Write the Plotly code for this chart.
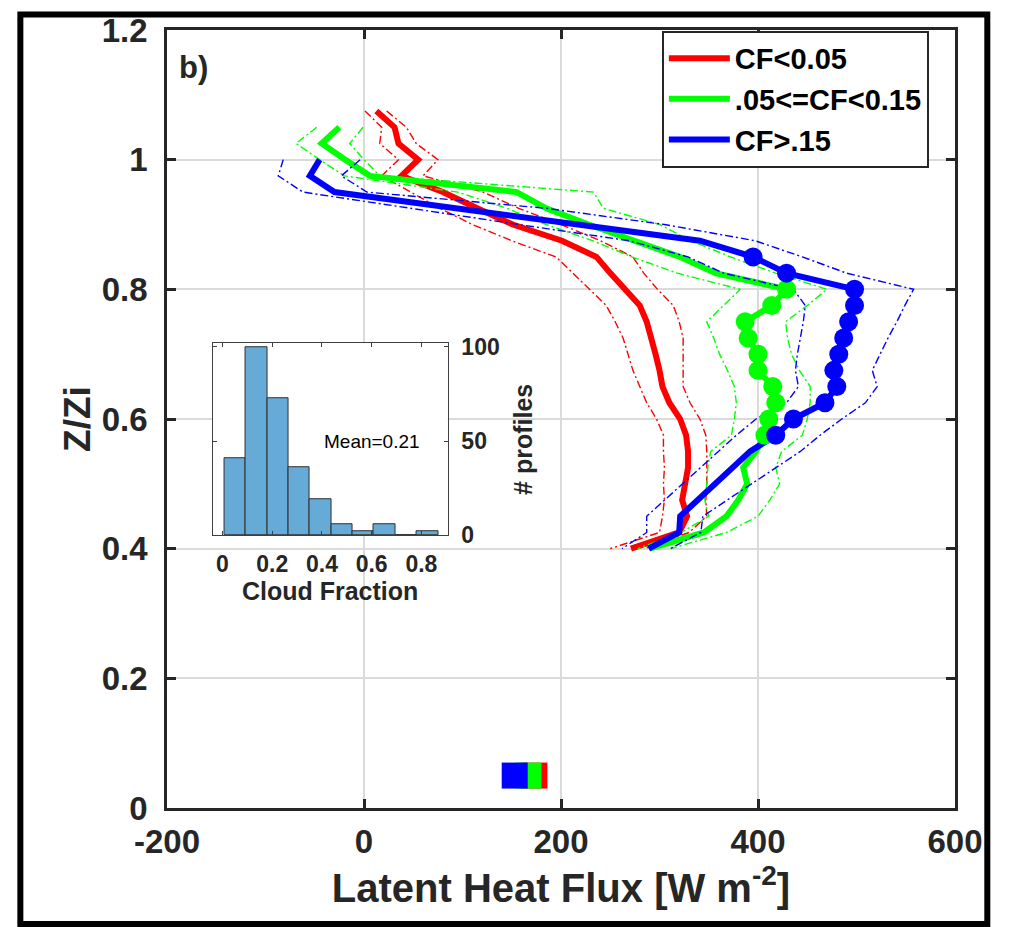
import plotly.graph_objects as go

# ---------------- data ----------------
# Latent heat flux profiles vs normalised height Z/Zi, three cloud-fraction classes
z_red = [1.075, 1.05, 1.025, 1.0, 0.975, 0.95, 0.925, 0.9, 0.875, 0.85, 0.825, 0.8, 0.775, 0.75,
         0.725, 0.7, 0.675, 0.65, 0.625, 0.6, 0.575, 0.55, 0.525, 0.5, 0.475, 0.45, 0.425, 0.4]
lhf_red_mean = [12.5, 31, 35, 55, 38, 80, 115, 151, 201, 236, 250, 265, 280, 287,
                292, 296, 300, 303, 310, 321, 327, 329, 329, 326, 323, 328, 320, 271]
lhf_red_low = [1, 18, 16, 35, 18, 47, 77, 110, 150, 195, 212, 229, 246, 255,
               263, 268, 273, 280, 287, 297, 304, 304, 305, 304, 305, 303, 300, 250]
lhf_red_high = [23, 43, 53, 75, 60, 121, 157, 200, 240, 273, 284, 298, 314, 320,
                324, 324, 324, 324, 331, 341, 347, 348, 348, 348, 347, 348, 330, 285]
sig_red = [0] * 28

z_green = [1.05, 1.025, 1.0, 0.975, 0.95, 0.925, 0.9, 0.875, 0.85, 0.825, 0.8, 0.775, 0.75,
           0.725, 0.7, 0.675, 0.65, 0.625, 0.6, 0.575, 0.55, 0.525, 0.5, 0.475, 0.45, 0.425, 0.4]
lhf_green_mean = [-25, -43, -19, 6, 155, 185, 228, 276, 321, 357, 429, 414, 387,
                  390, 400, 400, 415, 418, 411, 407, 398, 385, 389, 380, 368, 345, 290]
lhf_green_low = [-48, -69, -45, -20, 95, 145, 185, 232, 272, 318, 382, 365, 348,
                 355, 361, 369, 376, 378, 376, 373, 352, 349, 348, 346, 350, 322, 278]
lhf_green_high = [-1, -14.5, 0, 16, 233, 243, 300, 332, 372, 418, 470, 450, 428,
                  430, 434, 442, 453, 453, 450, 445, 424, 418, 422, 412, 400, 368, 311]
sig_green = [0, 0, 0, 0, 0, 0, 0, 0, 0, 0, 1, 1, 1, 1, 1, 1, 1, 1, 1, 1, 0, 0, 0, 0, 0, 0, 0]

z_blue = [1.0, 0.975, 0.95, 0.925, 0.9, 0.875, 0.85, 0.825, 0.8, 0.775, 0.75, 0.725, 0.7,
          0.675, 0.65, 0.625, 0.6, 0.575, 0.55, 0.525, 0.5, 0.475, 0.45, 0.425, 0.4]
lhf_blue_mean = [-45, -55, -30, 94, 217, 341, 395, 429, 498, 498, 492, 487, 482,
                 477, 480, 468, 436, 418, 392, 374, 357, 339, 321, 320, 289]
lhf_blue_low = [-82, -87, -62, 45, 157, 269, 329, 365, 436, 448, 446, 443, 440,
                438, 441, 429, 398, 378, 360, 342, 324, 305, 287, 287, 262]
lhf_blue_high = [-4, -23, 3, 185, 305, 397, 445, 490, 558, 549, 541, 532, 524,
                 516, 521, 509, 485, 463, 443, 418, 393, 369, 344, 342, 311]
sig_blue = [0, 0, 0, 0, 0, 0, 1, 1, 1, 1, 1, 1, 1, 1, 1, 1, 1, 1, 0, 0, 0, 0, 0, 0, 0]

# surface values (square markers near the bottom)
surface_z = [0.05, 0.05, 0.05]
surface_lhf = [173, 167, 153]          # red, green, blue

class_names = ["CF<0.05", ".05<=CF<0.15", "CF>.15"]
class_colors = ["rgb(255,0,0)", "rgb(0,255,0)", "rgb(0,0,255)"]

# inset histogram of cloud fraction
cf_bin_edges = [0.008, 0.094, 0.180, 0.266, 0.352, 0.438, 0.523, 0.609, 0.695, 0.781, 0.867]
cf_counts = [41, 100, 73, 36, 19, 6, 2, 6, 0, 2]
cf_mean_text = "Mean=0.21"

x_ticks = [-200, 0, 200, 400, 600]
x_ticktext = ["-200", "0", "200", "400", "600"]
y_ticks = [0, 0.2, 0.4, 0.6, 0.8, 1.0, 1.2]
y_ticktext = ["0", "0.2", "0.4", "0.6", "0.8", "1", "1.2"]
inset_x_ticks = [0, 0.2, 0.4, 0.6, 0.8]
inset_x_ticktext = ["0", "0.2", "0.4", "0.6", "0.8"]
inset_y_ticks = [0, 50, 100]

# ---------------- figure ----------------
FONT = "Liberation Sans, Arial, Helvetica, sans-serif"
AX = "#262626"
fig = go.Figure()

groups = [
    (z_red, lhf_red_mean, lhf_red_low, lhf_red_high, sig_red),
    (z_green, lhf_green_mean, lhf_green_low, lhf_green_high, sig_green),
    (z_blue, lhf_blue_mean, lhf_blue_low, lhf_blue_high, sig_blue),
]

for (z, mean, lo, hi, sig), name, col in zip(groups, class_names, class_colors):
    for bound in (lo, hi):
        fig.add_trace(go.Scatter(x=bound, y=z, mode="lines",
                                 line=dict(color=col, width=1.4, dash="8px,3px,2px,3px"),
                                 showlegend=False, hoverinfo="skip"))
    fig.add_trace(go.Scatter(x=mean, y=z, mode="lines", name=name,
                             line=dict(color=col, width=6)))

for (z, mean, lo, hi, sig), col in zip(groups, class_colors):
    xs = [m for m, s in zip(mean, sig) if s]
    ys = [zz for zz, s in zip(z, sig) if s]
    if xs:
        fig.add_trace(go.Scatter(x=xs, y=ys, mode="markers", showlegend=False,
                                 marker=dict(color=col, size=19, line=dict(width=0))))

for xv, yv, col in zip(surface_lhf, surface_z, class_colors):
    fig.add_trace(go.Scatter(x=[xv], y=[yv], mode="markers", showlegend=False,
                             marker=dict(color=col, size=26, symbol="square",
                                         line=dict(width=0))))

# inset histogram
centers = [(a + b) / 2 for a, b in zip(cf_bin_edges[:-1], cf_bin_edges[1:])]
widths = [b - a for a, b in zip(cf_bin_edges[:-1], cf_bin_edges[1:])]
fig.add_trace(go.Bar(x=centers, y=cf_counts, width=widths, xaxis="x2", yaxis="y2",
                     marker=dict(color="rgb(102,170,215)", line=dict(color="#303030", width=1)),
                     showlegend=False))

fig.update_layout(
    width=1010, height=927,
    margin=dict(l=167, r=55, t=23, b=119),
    paper_bgcolor="white", plot_bgcolor="white",
    font=dict(family=FONT, color=AX),
    xaxis=dict(range=[-200, 600], tickvals=x_ticks, ticktext=x_ticktext, showgrid=True,
               gridcolor="#dadada",
               gridwidth=2, zeroline=False, showline=True, linecolor=AX, linewidth=2.5,
               mirror="allticks", ticks="inside", ticklen=9, tickwidth=2.5, tickcolor=AX,
               tickfont=dict(size=33, weight="bold", color=AX), ticklabelstandoff=3,
               title=dict(text="Latent Heat Flux [W m<sup>-2</sup>]",
                          font=dict(size=40, weight="bold", color=AX), standoff=0)),
    yaxis=dict(range=[0, 1.2], tickvals=y_ticks, ticktext=y_ticktext, showgrid=True,
               gridcolor="#dadada", gridwidth=2, zeroline=False, showline=True, linecolor=AX,
               linewidth=2.5, mirror="allticks", ticks="inside", ticklen=9, tickwidth=2.5,
               tickcolor=AX, tickfont=dict(size=33, weight="bold", color=AX),
               ticklabelstandoff=10,
               title=dict(text="Z/Zi", font=dict(size=37, weight="bold", color=AX),
                          standoff=0)),
    xaxis2=dict(domain=[0.0578, 0.3563], anchor="y2", range=[-0.04, 0.906],
                tickvals=inset_x_ticks, ticktext=inset_x_ticktext, showgrid=False,
                zeroline=False, showline=True, mirror="allticks", linecolor="#404040",
                linewidth=1, ticks="inside", ticklen=4, tickcolor="#404040",
                tickfont=dict(size=23, weight="bold", color=AX), ticklabelstandoff=8,
                title=dict(text="Cloud Fraction", font=dict(size=25, weight="bold", color=AX),
                           standoff=6)),
    yaxis2=dict(domain=[0.3504, 0.5974], anchor="x2", side="right", range=[0, 102],
                tickvals=inset_y_ticks, showgrid=False, zeroline=False, showline=True,
                mirror="allticks", linecolor="#404040", linewidth=1, ticks="inside",
                ticklen=4, tickcolor="#404040",
                tickfont=dict(size=23, weight="bold", color=AX), ticklabelstandoff=8,
                title=dict(text="# profiles", font=dict(size=25, weight="bold", color=AX),
                           standoff=15)),
    legend=dict(x=0.628, y=0.999, xanchor="left", yanchor="top", bgcolor="white",
                bordercolor=AX, borderwidth=2, tracegroupgap=0, itemwidth=61,
                font=dict(size=29, weight="bold", color="black", family=FONT)),
    bargap=0,
    annotations=[
        dict(text="b)", xref="paper", yref="paper", x=0.0133, y=0.9512, xanchor="left",
             yanchor="middle", showarrow=False,
             font=dict(size=31, weight="bold", color=AX)),
        dict(text=cf_mean_text, xref="x2", yref="y2", x=0.4, y=50, xanchor="left",
             yanchor="middle", showarrow=False, font=dict(size=19, color="black")),
    ],
    shapes=[
        dict(type="rect", xref="paper", yref="paper", x0=-0.1861, x1=1.0410,
             y0=-0.1492, y1=1.020, line=dict(color="black", width=6), layer="above"),
    ],
)

post = ("document.body.style.margin='0px';document.body.style.padding='0px';"
        "var gd=document.getElementById('{plot_id}');gd.style.position='absolute';"
        "gd.style.top='0px';gd.style.left='0px';")
fig.write_html("out.html", post_script=post, config={"displayModeBar": False})
